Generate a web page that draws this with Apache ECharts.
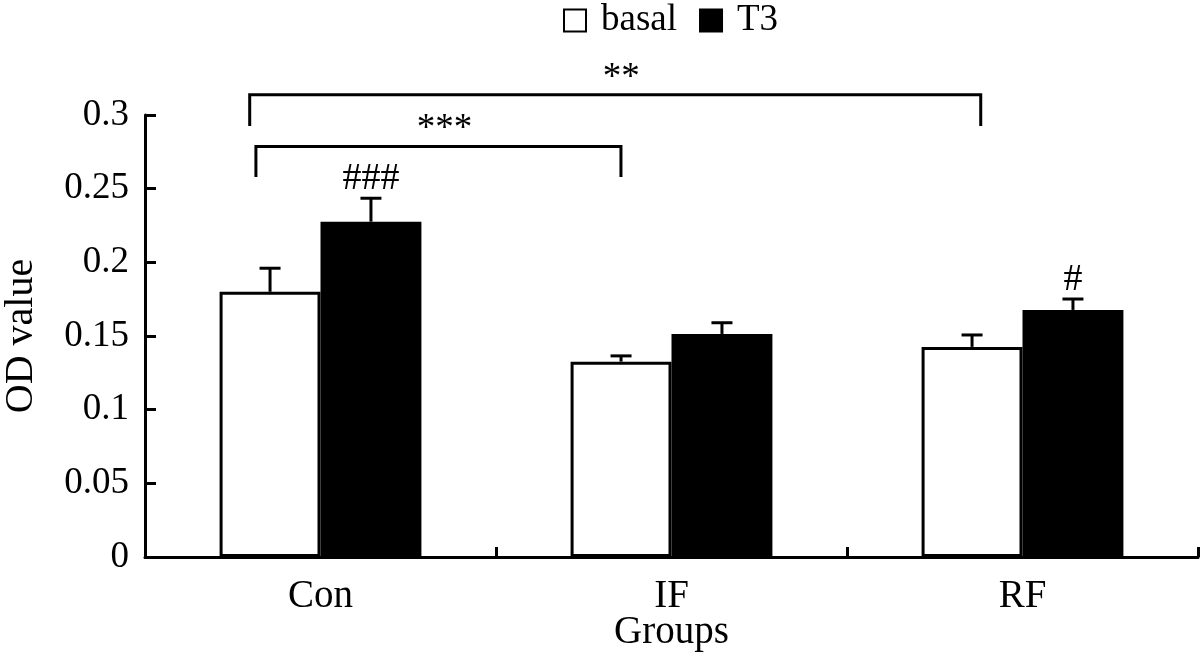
<!DOCTYPE html>
<html>
<head>
<meta charset="utf-8">
<script src="https://cdn.jsdelivr.net/npm/echarts@6/dist/echarts.min.js"></script>
<style>
html,body{margin:0;padding:0;background:#fff;}
#chart{width:1200px;height:663px;}
</style>
</head>
<body>
<div id="chart"></div>
<script>
// ---- data ----
const categories = ['Con', 'IF', 'RF'];
const basalValues = [0.180, 0.1326, 0.1426];
const basalErrors = [0.016, 0.0039, 0.0081];
const t3Values = [0.2276, 0.1514, 0.1677];
const t3Errors = [0.0159, 0.0076, 0.0074];
const t3Marks = ['###', '', '#'];
const yTickValues = [0, 0.05, 0.1, 0.15, 0.2, 0.25, 0.3];
// significance brackets (categories compared, bracket level and leg end in y units)
const bracketFrom = ['Con', 'Con'];
const bracketTo = ['IF', 'RF'];
const bracketLevel = [0.2786, 0.3137];
const bracketLegEnd = [0.258, 0.2926];
const bracketLabels = ['***', '**'];

// ---- style ----
const FONT = '"Liberation Serif", "Times New Roman", serif';
const GAP = 0.425;
const LW = 3;

const chart = echarts.init(document.getElementById('chart'));

function errRender(side, marks) {
  return function (params, api) {
    const i = api.value(0);
    const base = api.coord([i, api.value(1)]);
    const top = api.coord([i, api.value(2)]);
    const band = api.size([1, 0])[0];
    const bw = band * (1 - GAP) / 2;
    const x = base[0] + side * bw / 2;
    const cap = 10.5;
    const children = [
      {type: 'line', shape: {x1: x, y1: base[1], x2: x, y2: top[1]}, style: {stroke: '#000', lineWidth: LW}},
      {type: 'line', shape: {x1: x - cap, y1: top[1], x2: x + cap, y2: top[1]}, style: {stroke: '#000', lineWidth: LW}}
    ];
    const m = marks ? marks[params.dataIndex] : '';
    if (m) {
      children.push({type: 'text', x: x, y: top[1] - 19,
        style: {text: m, font: '38px ' + FONT, fill: '#000', align: 'center', verticalAlign: 'middle'}});
    }
    return {type: 'group', children: children};
  };
}

const bracketLeftOffsets = [-0.184, -0.2017];
const bracketRightOffsets = [-0.144, -0.119];

function bracketRender(params, api) {
  const k = params.dataIndex;
  const a = api.value(0), b = api.value(1);
  const band = api.size([1, 0])[0];
  const pA = api.coord([a, api.value(2)]);
  const pB = api.coord([b, api.value(2)]);
  const leg = api.coord([a, api.value(3)]);
  const x1 = pA[0] + bracketLeftOffsets[k] * band;
  const x2 = pB[0] + bracketRightOffsets[k] * band;
  const y = pA[1], y2 = leg[1];
  return {type: 'group', children: [
    {type: 'polyline', shape: {points: [[x1, y2], [x1, y], [x2, y], [x2, y2]]},
      style: {stroke: '#000', lineWidth: LW, fill: null}},
    {type: 'text', x: (x1 + x2) / 2 + 6, y: y - 17,
      style: {text: bracketLabels[k], font: '37px ' + FONT, fill: '#000', align: 'center', verticalAlign: 'middle'}}
  ]};
}

const option = {
  animation: false,
  backgroundColor: '#fff',
  textStyle: {fontFamily: FONT, color: '#000'},
  legend: {
    data: ['basal', 'T3'],
    top: 2,
    left: 563,
    padding: 0,
    itemWidth: 22,
    itemHeight: 22,
    itemGap: 22,
    icon: 'rect',
    textStyle: {fontFamily: FONT, fontSize: 37, color: '#000', padding: [0, 0, 0, 10]}
  },
  grid: {left: 145, right: 2, top: 115, bottom: 106, containLabel: false, outerBoundsMode: 'none'},
  xAxis: {
    type: 'category',
    data: categories,
    name: 'Groups',
    nameLocation: 'middle',
    nameGap: 56,
    nameMoveOverlap: false,
    nameTextStyle: {fontFamily: FONT, fontSize: 39, color: '#000'},
    axisLine: {lineStyle: {color: '#000', width: LW}},
    axisTick: {show: true, inside: true, length: 10, interval: 0, lineStyle: {color: '#000', width: LW}},
    axisLabel: {fontFamily: FONT, fontSize: 39, color: '#000', margin: 20}
  },
  yAxis: {
    type: 'value',
    min: 0,
    max: 0.3,
    interval: 0.05,
    name: 'OD value',
    nameLocation: 'middle',
    nameRotate: 90,
    nameGap: 104,
    nameMoveOverlap: false,
    nameTextStyle: {fontFamily: FONT, fontSize: 40, color: '#000'},
    axisLine: {show: true, lineStyle: {color: '#000', width: LW}},
    axisTick: {show: true, inside: true, length: 11, lineStyle: {color: '#000', width: LW}},
    splitLine: {show: false},
    axisLabel: {fontFamily: FONT, fontSize: 37, color: '#000', margin: 16,
      formatter: function (v) { const t = yTickValues.find(x => Math.abs(x - v) < 1e-9); return String(t !== undefined ? t : v); }}
  },
  series: [
    {
      name: 'basal', type: 'bar', data: basalValues,
      barGap: '0%', barCategoryGap: (GAP * 100) + '%',
      itemStyle: {color: '#fff', borderColor: '#000', borderWidth: LW}
    },
    {
      name: 'T3', type: 'bar', data: t3Values,
      barGap: '0%', barCategoryGap: (GAP * 100) + '%',
      itemStyle: {color: '#000', borderColor: '#000', borderWidth: LW}
    },
    {
      type: 'custom', name: 'basalErr', z: 5, silent: true,
      renderItem: errRender(-1, null),
      encode: {x: 0, y: [1, 2]},
      data: basalValues.map((v, i) => [i, v, v + basalErrors[i]])
    },
    {
      type: 'custom', name: 'T3Err', z: 5, silent: true,
      renderItem: errRender(1, t3Marks),
      encode: {x: 0, y: [1, 2]},
      data: t3Values.map((v, i) => [i, v, v + t3Errors[i]])
    },
    {
      type: 'custom', name: 'brackets', z: 5, silent: true, clip: false,
      renderItem: bracketRender,
      encode: {x: [0, 1], y: [2, 3]},
      data: bracketFrom.map((f, k) => [categories.indexOf(f), categories.indexOf(bracketTo[k]), bracketLevel[k], bracketLegEnd[k]])
    }
  ]
};
chart.setOption(option);
</script>
</body>
</html>
